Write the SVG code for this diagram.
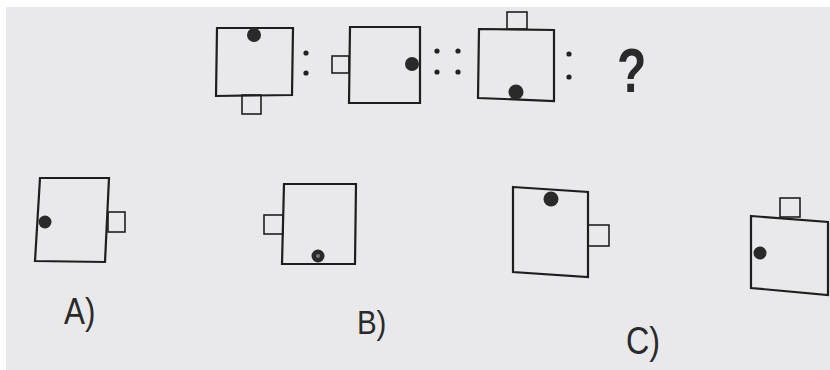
<svg xmlns="http://www.w3.org/2000/svg" width="830" height="370" viewBox="0 0 830 370">
<style>
.box{fill:none;stroke:#1e1e1e;stroke-width:2.2;stroke-linejoin:miter}
.tab{fill:none;stroke:#1e1e1e;stroke-width:1.6}
.dot{fill:#2a2a2a}
.colon{fill:#222}
.lbl{font-family:"Liberation Sans",Arial,sans-serif;fill:#2a2a2a}
</style>
<rect x="0" y="0" width="830" height="370" fill="#e9e9eb"/>
<rect x="0" y="0" width="830" height="7" fill="#ffffff"/>
<rect x="0" y="0" width="6" height="370" fill="#ffffff"/>
<g id="fig1">
<rect class="tab" x="242" y="95" width="19" height="19"/>
<polygon class="box" points="217,28 293,28 292,95 216,96"/>
<circle class="dot" cx="254" cy="35" r="7"/>
</g>
<g id="colon1"><circle class="colon" cx="306" cy="53" r="2.6"/><circle class="colon" cx="306" cy="73" r="2.6"/></g>
<g id="fig2">
<rect class="tab" x="332" y="56" width="17" height="17"/>
<polygon class="box" points="350,27 420,27 420,103 349,103"/>
<circle class="dot" cx="412" cy="64" r="7"/>
</g>
<g id="dcolon"><circle class="colon" cx="437" cy="51" r="2.6"/><circle class="colon" cx="437" cy="72" r="2.6"/><circle class="colon" cx="458" cy="51" r="2.6"/><circle class="colon" cx="458" cy="72" r="2.6"/></g>
<g id="fig3">
<rect class="tab" x="507" y="12" width="20" height="17"/>
<polygon class="box" points="479,29 554,30 554,101 478,98"/>
<circle class="dot" cx="516" cy="92" r="7.5"/>
</g>
<g id="colon3"><circle class="colon" cx="569" cy="54" r="2.6"/><circle class="colon" cx="569" cy="77" r="2.6"/></g>
<text id="qmark" class="lbl" x="617" y="92" font-size="48" font-weight="bold" fill="#111" transform="translate(617 92) scale(1 1.3) translate(-617 -92)">?</text>
<g id="optA">
<rect class="tab" x="108" y="212" width="17" height="20"/>
<polygon class="box" points="40,178 109,178 105,262 35,261"/>
<circle class="dot" cx="45" cy="222" r="6.5"/>
<text class="lbl" x="64" y="324" font-size="33" transform="translate(64 324) scale(0.95 1.1) translate(-64 -324)">A)</text>
</g>
<g id="optB">
<rect class="tab" x="264" y="215" width="19" height="19"/>
<polygon class="box" points="284,184 356,184 355,264 282,264"/>
<circle class="dot" cx="318" cy="256" r="6.5"/>
<circle cx="318" cy="256" r="2" fill="#777"/>
<text class="lbl" x="357" y="334" font-size="31" transform="translate(357 334) scale(0.95 1.1) translate(-357 -334)">B)</text>
</g>
<g id="optC">
<rect class="tab" x="588" y="225" width="21" height="21"/>
<polygon class="box" points="513,187 588,192 588,277 513,272"/>
<circle class="dot" cx="551" cy="199" r="7.5"/>
<text class="lbl" x="626" y="354" font-size="34" transform="translate(626 354) scale(0.95 1.12) translate(-626 -354)">C)</text>
</g>
<g id="optD">
<rect class="tab" x="780" y="198" width="20" height="19"/>
<polygon class="box" points="751,216 828,222 828,295 751,288"/>
<circle class="dot" cx="760" cy="253" r="6.5"/>
</g>
<g id="connectors"></g>
</svg>
